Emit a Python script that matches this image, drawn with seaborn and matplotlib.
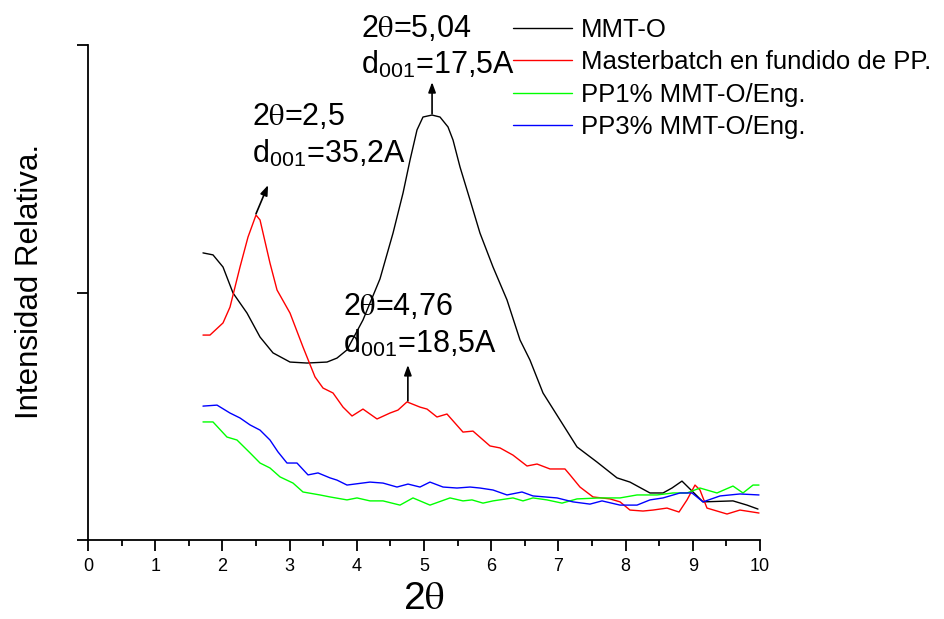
import numpy as np
import pandas as pd
import matplotlib
matplotlib.use("Agg")
import matplotlib.pyplot as plt
import seaborn as sns
from matplotlib.ticker import MultipleLocator

# ---------------- data ----------------
mmt_x = [1.711, 1.860, 2.009, 2.158, 2.366, 2.560, 2.753, 3.006, 3.259, 3.557, 3.705, 3.854,
         4.092, 4.345, 4.539, 4.688, 4.792, 4.896, 4.985, 5.119, 5.238, 5.357, 5.432, 5.536,
         5.685, 5.833, 6.027, 6.235, 6.429, 6.577, 6.771, 7.024, 7.277, 7.574, 7.872, 8.065,
         8.363, 8.557, 8.690, 8.839, 9.003, 9.152, 9.598, 9.807, 9.970]
mmt_y = [1.160, 1.152, 1.103, 0.998, 0.917, 0.820, 0.756, 0.719, 0.715, 0.719, 0.735, 0.768,
         0.889, 1.055, 1.240, 1.402, 1.535, 1.657, 1.709, 1.717, 1.709, 1.669, 1.616, 1.507,
         1.374, 1.240, 1.103, 0.970, 0.808, 0.727, 0.594, 0.485, 0.376, 0.315, 0.251, 0.234,
         0.190, 0.190, 0.210, 0.238, 0.194, 0.154, 0.158, 0.141, 0.125]

mb_x = [1.711, 1.815, 2.009, 2.113, 2.262, 2.381, 2.500, 2.560, 2.708, 2.813, 3.006, 3.199,
        3.378, 3.497, 3.646, 3.795, 3.929, 4.092, 4.301, 4.494, 4.613, 4.747, 4.940, 5.045,
        5.193, 5.342, 5.580, 5.729, 5.982, 6.131, 6.324, 6.533, 6.682, 6.875, 7.098, 7.173,
        7.321, 7.515, 7.768, 7.917, 8.065, 8.259, 8.408, 8.616, 8.795, 8.914, 9.033, 9.107,
        9.211, 9.360, 9.509, 9.702, 9.985]
mb_y = [0.828, 0.828, 0.877, 0.941, 1.103, 1.224, 1.313, 1.293, 1.119, 1.010, 0.917, 0.780,
        0.659, 0.614, 0.594, 0.537, 0.501, 0.529, 0.489, 0.513, 0.525, 0.558, 0.537, 0.529,
        0.497, 0.509, 0.436, 0.440, 0.380, 0.372, 0.343, 0.299, 0.307, 0.287, 0.287, 0.263,
        0.214, 0.174, 0.166, 0.154, 0.121, 0.117, 0.121, 0.129, 0.113, 0.162, 0.222, 0.202,
        0.129, 0.117, 0.105, 0.121, 0.109]

pp1_x = [1.711, 1.860, 2.068, 2.217, 2.411, 2.560, 2.708, 2.857, 3.051, 3.199, 3.452, 3.601,
         3.854, 4.003, 4.196, 4.390, 4.643, 4.836, 5.089, 5.387, 5.580, 5.714, 5.878, 6.027,
         6.324, 6.473, 6.622, 6.830, 7.054, 7.277, 7.619, 7.917, 8.170, 8.467, 8.705, 8.914,
         9.107, 9.360, 9.598, 9.747, 9.896, 9.985]
pp1_y = [0.477, 0.477, 0.416, 0.404, 0.352, 0.311, 0.291, 0.255, 0.230, 0.194, 0.182, 0.174,
         0.162, 0.170, 0.158, 0.158, 0.141, 0.170, 0.141, 0.170, 0.158, 0.162, 0.149, 0.158,
         0.170, 0.158, 0.170, 0.162, 0.149, 0.166, 0.170, 0.170, 0.182, 0.182, 0.190, 0.190,
         0.210, 0.190, 0.218, 0.190, 0.222, 0.222]

pp3_x = [1.711, 1.920, 2.113, 2.262, 2.411, 2.560, 2.708, 2.827, 2.961, 3.110, 3.274, 3.423,
         3.601, 3.705, 3.854, 4.196, 4.390, 4.598, 4.762, 4.940, 5.089, 5.283, 5.491, 5.685,
         5.833, 6.027, 6.235, 6.458, 6.622, 6.979, 7.217, 7.470, 7.649, 7.917, 8.170, 8.363,
         8.557, 8.810, 8.988, 9.152, 9.405, 9.702, 9.985]
pp3_y = [0.541, 0.545, 0.513, 0.493, 0.465, 0.444, 0.404, 0.356, 0.311, 0.311, 0.263, 0.271,
         0.251, 0.242, 0.222, 0.234, 0.230, 0.214, 0.226, 0.214, 0.234, 0.214, 0.210, 0.214,
         0.210, 0.202, 0.182, 0.194, 0.178, 0.170, 0.154, 0.145, 0.158, 0.141, 0.141, 0.162,
         0.170, 0.190, 0.190, 0.154, 0.178, 0.186, 0.182]

series_names = ["MMT-O", "Masterbatch en fundido de PP.", "PP1% MMT-O/Eng.", "PP3% MMT-O/Eng."]
series_colors = ["#000000", "#ff0000", "#00ff00", "#0000ff"]
x_ticks = [0, 1, 2, 3, 4, 5, 6, 7, 8, 9, 10]

peak_labels = [
    ("2$\\mathrm{\\theta}$=5,04", "d$_{\\mathregular{001}}$=17,5A"),
    ("2$\\mathrm{\\theta}$=2,5", "d$_{\\mathregular{001}}$=35,2A"),
    ("2$\\mathrm{\\theta}$=4,76", "d$_{\\mathregular{001}}$=18,5A"),
]

# ---------------- style ----------------
sns.set_style("ticks")
plt.rcParams["font.family"] = ["Liberation Sans", "DejaVu Sans"]
plt.rcParams["mathtext.fontset"] = "stix"
plt.rcParams["text.color"] = "black"
plt.rcParams["axes.labelcolor"] = "black"
plt.rcParams["xtick.color"] = "black"
plt.rcParams["ytick.color"] = "black"
plt.rcParams["legend.labelcolor"] = "black"

fig = plt.figure(figsize=(9.44, 6.19), dpi=100)
ax = fig.add_axes([88 / 944, 1 - 540 / 619, (760 - 88) / 944, (540 - 45) / 619])

frames = []
for name, xs, ys in zip(series_names, [mmt_x, mb_x, pp1_x, pp3_x], [mmt_y, mb_y, pp1_y, pp3_y]):
    frames.append(pd.DataFrame({"x": xs, "y": ys, "serie": name}))
df = pd.concat(frames, ignore_index=True)

sns.lineplot(data=df, x="x", y="y", hue="serie", hue_order=series_names,
             palette=series_colors, sort=False, estimator=None, linewidth=1.0,
             ax=ax, legend=False)

ax.set_xlim(0, 10)
ax.set_ylim(0, 2)
ax.set_xticks(x_ticks)
ax.set_xticklabels([str(t) for t in x_ticks], fontsize=13, color="black")
ax.xaxis.set_minor_locator(MultipleLocator(0.5))
ax.set_yticks([0, 1, 2])
ax.set_yticklabels([])
for s in ["top", "right"]:
    ax.spines[s].set_visible(False)
for s in ["left", "bottom"]:
    ax.spines[s].set_linewidth(1.3)
    ax.spines[s].set_color("black")
ax.tick_params(axis="both", which="major", direction="out", length=8, width=1.3, color="black", pad=5)
ax.tick_params(axis="x", which="minor", direction="out", length=4.5, width=1.3, color="black")

ax.set_xlabel("2$\\mathrm{\\theta}$", fontsize=28, labelpad=4, color="black")
ax.set_ylabel("Intensidad Relativa.", fontsize=22.5, color="black")
ax.yaxis.set_label_coords(-0.064, 0.522)

# legend
handles = [plt.Line2D([], [], color=c, linewidth=1.0) for c in series_colors]
fig.legend(handles, series_names, loc="upper left", bbox_to_anchor=(513 / 944, 1 - 18 / 619),
           frameon=False, fontsize=18.5, handlelength=2.3, handletextpad=0.35,
           labelspacing=0.33, borderpad=0, borderaxespad=0, labelcolor="black")

# annotations
txt_kw = dict(fontsize=22, va="baseline", ha="left", clip_on=False, color="black")
arrow_kw = dict(arrowstyle="-|>,head_length=0.6,head_width=0.22", color="black", lw=1.2,
                shrinkA=0, shrinkB=0)
# peak 5.04
ax.text(4.06, 2.032, peak_labels[0][0], **txt_kw)
ax.text(4.06, 1.883, peak_labels[0][1], **txt_kw)
ax.annotate("", xy=(5.12, 1.85), xytext=(5.12, 1.722), arrowprops=arrow_kw, annotation_clip=False)
# peak 2.5
ax.text(2.44, 1.677, peak_labels[1][0], **txt_kw)
ax.text(2.44, 1.523, peak_labels[1][1], **txt_kw)
ax.annotate("", xy=(2.68, 1.434), xytext=(2.50, 1.318), arrowprops=arrow_kw)
# peak 4.76
ax.text(3.79, 0.909, peak_labels[2][0], **txt_kw)
ax.text(3.79, 0.756, peak_labels[2][1], **txt_kw)
ax.annotate("", xy=(4.76, 0.707), xytext=(4.76, 0.562), arrowprops=arrow_kw)

fig.savefig("out.png", dpi=100)
